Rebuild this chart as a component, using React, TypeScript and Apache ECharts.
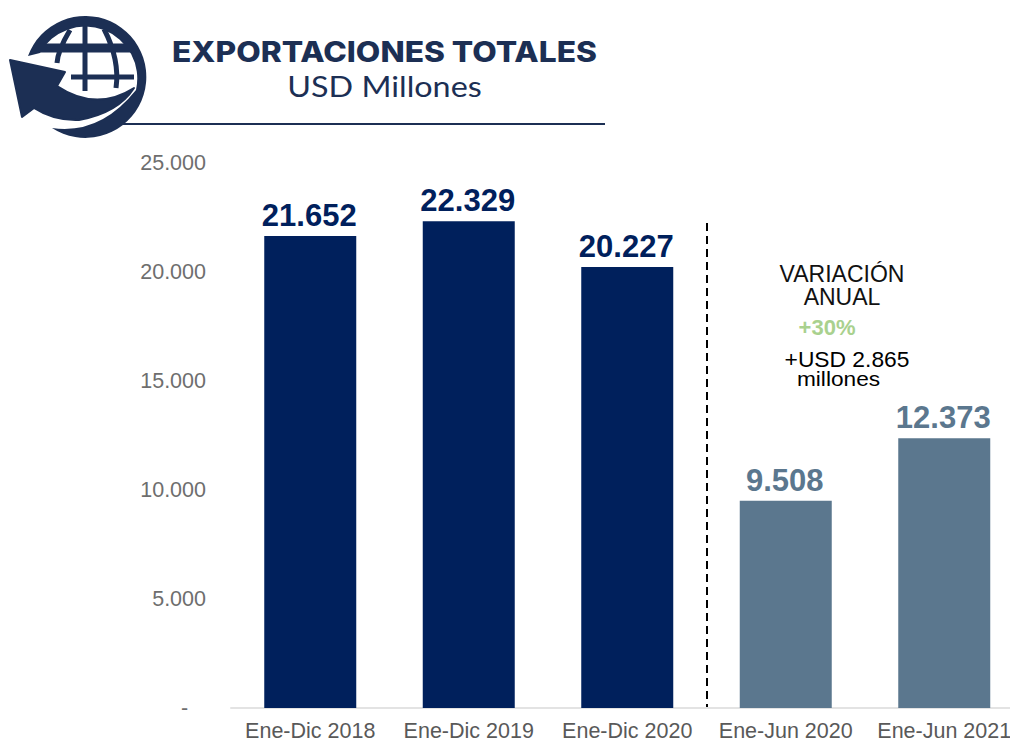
import React, { useEffect, useRef } from "react";
import * as echarts from "echarts";

const categories = ["Ene-Dic 2018", "Ene-Dic 2019", "Ene-Dic 2020", "Ene-Jun 2020", "Ene-Jun 2021"];
const values = [21652, 22329, 20227, 9508, 12373];
const barColors = ["#00205C", "#00205C", "#00205C", "#5B778E", "#5B778E"];
const labelColors = ["#00205C", "#00205C", "#00205C", "#5B778E", "#5B778E"];
const yMax = 25000;
const yStep = 5000;
const titleText = "EXPORTACIONES TOTALES";
const subtitleText = "USD Millones";
const noteLines = ["VARIACIÓN\nANUAL", "+30%", "+USD 2.865", "millones"];

const NAVY = "#1C2F54";
const SANS = '"Liberation Sans", Arial, sans-serif';

const fmt = (v: number) => String(v).replace(/\B(?=(\d{3})+$)/g, ".");

echarts.graphic.registerShape(
  "logoRing",
  echarts.graphic.extendPath(
    "M28,56 A61,61 0 1 1 52,128 Q100,135 136,90 A52,52 0 0 0 40,53 Z",
    {}
  )
);
echarts.graphic.registerShape(
  "logoArrow",
  echarts.graphic.extendPath(
    "M10,60 L65,72 L57,86 Q96,112 134,88 Q118,113 79,120 Q54,121 34,108 L22,117 Z",
    {}
  )
);
echarts.graphic.registerShape(
  "logoGrid",
  echarts.graphic.extendPath(
    "M85,26 L85,91 M36,46 L134,46 M36,50 L132,50 M71,77 L134,77 M70,30 Q58,50 57,63 M104,29 Q120,60 116,88",
    {}
  )
);

export default function App() {
  const ref = useRef<HTMLDivElement>(null);
  useEffect(() => {
    const chart = echarts.init(ref.current!, null, { renderer: "svg" });
    chart.setOption({
      animation: false,
      grid: { left: 231, top: 163, width: 792.5, height: 545, outerBoundsMode: "none" },
      xAxis: {
        type: "category",
        data: categories,
        axisTick: { show: false },
        axisLine: { lineStyle: { color: "#E3E3E3", width: 2 } },
        axisLabel: { color: "#595959", fontSize: 21.5, lineHeight: 16, fontFamily: SANS, margin: 15, interval: 0, hideOverlap: false },
      },
      yAxis: {
        type: "value",
        min: 0,
        max: yMax,
        interval: yStep,
        axisLine: { show: false },
        axisTick: { show: false },
        splitLine: { show: false },
        axisLabel: {
          color: "#6E6E6E",
          fontSize: 21.5,
          fontFamily: SANS,
          margin: 25,
          formatter: (v: number) => (v === 0 ? "-\u00a0\u00a0\u00a0" : fmt(v)),
        },
      },
      series: [
        {
          type: "bar",
          barWidth: 92,
          data: values.map((v, i) => ({
            value: v,
            itemStyle: { color: barColors[i] },
            label: { color: labelColors[i] },
          })),
          label: {
            show: true,
            position: "top",
            distance: 5,
            offset: [-1, 0],
            fontSize: 31,
            fontWeight: "bold",
            fontFamily: SANS,
            formatter: (p: any) => fmt(p.value),
          },
        },
      ],
      graphic: [
        { type: "logoRing", x: 0, y: 0, style: { fill: NAVY } },
        { type: "logoGrid", x: 0, y: 0, style: { fill: "none", stroke: NAVY, lineWidth: 5 } },
        { type: "logoArrow", x: 0, y: 0, style: { fill: NAVY, stroke: NAVY, lineWidth: 2, lineJoin: "round" } },
        { type: "line", shape: { x1: 122, y1: 124, x2: 605, y2: 124 }, style: { stroke: NAVY, lineWidth: 2 } },
        {
          type: "text", x: 384.5, y: 52, scaleX: 1.133,
          style: { text: titleText, fill: NAVY, font: "800 28px Inter, sans-serif", align: "center", verticalAlign: "middle" },
        },
        {
          type: "text", x: 384.5, y: 86, scaleX: 1.155,
          style: { text: subtitleText, fill: NAVY, font: "400 28px Lato, sans-serif", align: "center", verticalAlign: "middle" },
        },
        { type: "line", shape: { x1: 707, y1: 223, x2: 707, y2: 708 }, style: { stroke: "#000", lineWidth: 2, lineDash: [8, 5] } },
        { type: "text", x: 842, y: 285.5, style: { text: noteLines[0], fill: "#111", font: `23px ${SANS}`, lineHeight: 23, align: "center", verticalAlign: "middle" } },
        { type: "text", x: 827, y: 327, style: { text: noteLines[1], fill: "#A9D18E", font: `bold 22px ${SANS}`, lineHeight: 20, align: "center", verticalAlign: "middle" } },
        { type: "text", x: 847, y: 359, style: { text: noteLines[2], fill: "#000", font: `22.8px ${SANS}`, lineHeight: 18, align: "center", verticalAlign: "middle" } },
        { type: "text", x: 838.5, y: 379, scaleX: 1.08, style: { text: noteLines[3], fill: "#000", font: `21px ${SANS}`, lineHeight: 16, align: "center", verticalAlign: "middle" } },
      ],
    });
    return () => chart.dispose();
  }, []);
  return (
    <div
      ref={ref}
      style={{ position: "fixed", left: 0, top: 0, width: 1010, height: 740, background: "#fff" }}
    />
  );
}
